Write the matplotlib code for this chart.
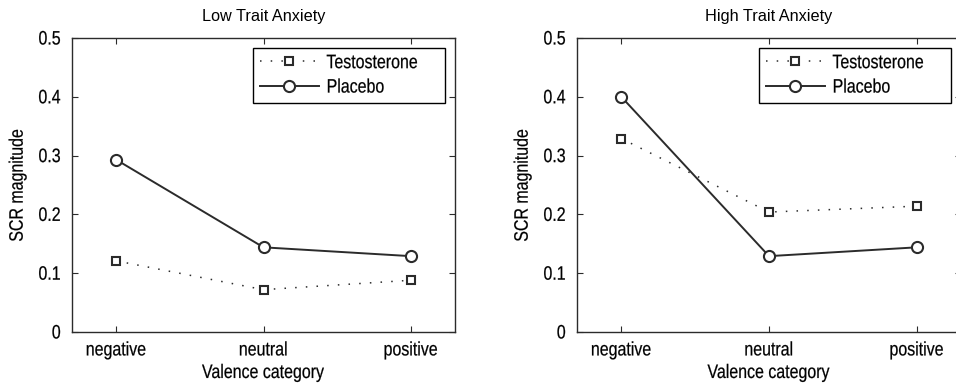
"""SCR magnitude per valence category, testosterone vs placebo, split by trait anxiety."""

import matplotlib

matplotlib.use("Agg")
import matplotlib.pyplot as plt
from matplotlib.patheffects import AbstractPathEffect
from matplotlib.transforms import Affine2D

plt.rcParams["font.family"] = ["Liberation Sans", "DejaVu Sans"]
plt.rcParams["font.size"] = 14

INK = "#2b2b2b"
NARROW = 0.82  # horizontal squeeze for a condensed Helvetica look

categories = ["negative", "neutral", "positive"]
panel_titles = ["Low Trait Anxiety", "High Trait Anxiety"]

# mean SCR magnitude per group, one list per panel
testosterone_low = [0.121, 0.072, 0.088]
placebo_low = [0.293, 0.144, 0.129]
testosterone_high = [0.329, 0.204, 0.214]
placebo_high = [0.400, 0.129, 0.144]

yticks = [0, 0.1, 0.2, 0.3, 0.4, 0.5]
ytick_labels = ["0", "0.1", "0.2", "0.3", "0.4", "0.5"]


class Squeeze(AbstractPathEffect):
    """Draw a text path narrower along its own baseline, with a hair of stroke."""

    def __init__(self, factor, anchor="center", stroke=0.15):
        super().__init__()
        self.factor = factor
        self.anchor = anchor
        self.stroke = stroke

    def draw_path(self, renderer, gc, tpath, affine, rgbFace=None):
        ext = tpath.get_extents()
        if self.anchor == "left":
            x0 = ext.x0
        elif self.anchor == "right":
            x0 = ext.x1
        else:
            x0 = 0.5 * (ext.x0 + ext.x1)
        squeeze = Affine2D().translate(-x0, 0).scale(self.factor, 1).translate(x0, 0)
        gc0 = renderer.new_gc()
        gc0.copy_properties(gc)
        if rgbFace is not None:
            gc0.set_foreground(rgbFace)
        gc0.set_linewidth(self.stroke)
        renderer.draw_path(gc0, tpath, squeeze + affine, rgbFace)
        gc0.restore()


def narrow(texts, anchor="center"):
    for t in texts:
        t.set_path_effects([Squeeze(NARROW, anchor)])


def draw_panel(ax, title, testo, placebo):
    x = list(range(1, len(categories) + 1))
    ax.plot(x, testo, linestyle=(0, (1, 6)), linewidth=1.1, color=INK,
            marker="s", markersize=6.2, markerfacecolor="white",
            markeredgecolor=INK, markeredgewidth=1.5, label="Testosterone")
    ax.plot(x, placebo, linestyle="-", linewidth=1.4, color=INK,
            marker="o", markersize=8, markerfacecolor="white",
            markeredgecolor=INK, markeredgewidth=1.5, label="Placebo")

    ax.set_xlim(0.7, 3.3)
    ax.set_ylim(0, 0.5)
    ax.set_xticks(x, labels=categories)
    ax.set_yticks(yticks, labels=ytick_labels)
    ax.tick_params(direction="in", length=4, width=0.8, color=INK,
                   top=True, right=True, labelsize=14)
    ax.tick_params(axis="x", pad=7.5)
    ax.tick_params(axis="y", pad=8)
    for spine in ax.spines.values():
        spine.set_color(INK)
        spine.set_linewidth(1.0)

    ax.set_title(title, fontsize=11.7, pad=12)
    ax.set_xlabel("Valence category", labelpad=4)
    ax.set_ylabel("SCR magnitude", labelpad=5)

    leg = ax.legend(loc="upper right", fancybox=False, framealpha=1,
                    edgecolor="black", handlelength=3.0, handletextpad=0.4,
                    borderaxespad=0.5, labelspacing=0.35, borderpad=0.35,
                    fontsize=14)
    leg.get_frame().set_linewidth(1.0)

    narrow(ax.get_xticklabels(), "center")
    narrow(ax.get_yticklabels(), "right")
    narrow([ax.xaxis.label, ax.yaxis.label], "center")
    narrow(leg.get_texts(), "left")


fig = plt.figure(figsize=(9.56, 3.86), dpi=100)
ax_low = fig.add_axes([72 / 956, 54 / 386, 383 / 956, 294 / 386])
ax_high = fig.add_axes([577 / 956, 54 / 386, 384 / 956, 294 / 386])

draw_panel(ax_low, panel_titles[0], testosterone_low, placebo_low)
draw_panel(ax_high, panel_titles[1], testosterone_high, placebo_high)

fig.savefig("out.png", dpi=100)
